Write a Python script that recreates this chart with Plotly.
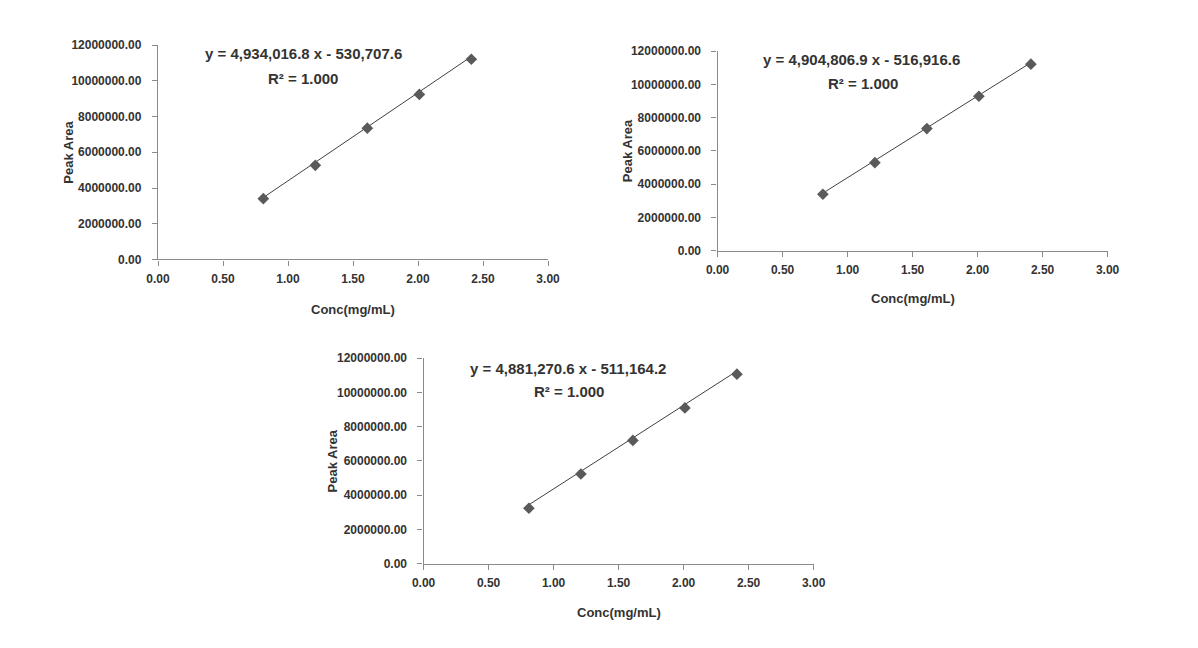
import plotly.graph_objects as go

# ---- data ----
conc = [0.81, 1.21, 1.61, 2.01, 2.41]
area_1 = [3.40e6, 5.27e6, 7.35e6, 9.24e6, 11.21e6]
area_2 = [3.39e6, 5.29e6, 7.34e6, 9.28e6, 11.21e6]
area_3 = [3.24e6, 5.24e6, 7.20e6, 9.10e6, 11.07e6]
slopes = [4934016.8, 4904806.9, 4881270.6]
intercepts = [-530707.6, -516916.6, -511164.2]
eq_labels = ["y = 4,934,016.8 x - 530,707.6",
             "y = 4,904,806.9 x - 516,916.6",
             "y = 4,881,270.6 x - 511,164.2"]
r2_labels = ["R² = 1.000", "R² = 1.000", "R² = 1.000"]
x_ticks = [0.0, 0.5, 1.0, 1.5, 2.0, 2.5, 3.0]
y_ticks = [0, 2e6, 4e6, 6e6, 8e6, 10e6, 12e6]
x_title = "Conc(mg/mL)"
y_title = "Peak Area"

W, H = 1198, 648
FONT = "Liberation Sans, Arial, sans-serif"
TXT = "#333333"
AXC = "#8a8a8a"

# panel pixel boxes: (x_left, x_right, y_top, y_bottom)
boxes = [(149, 547, 39, 258), (720, 1118, 45, 249), (420, 818, 359, 569)]
eq_pos = [((297, 48), (297, 73)), ((867, 54), (868, 78)), ((567, 369), (568, 393))]
xt_pos = [(348, 309), (919, 298), (619, 619)]
yt_pos = [(58, 148), (628, 147), (328, 464)]

series = [area_1, area_2, area_3]

fig = go.Figure()
annotations = []


def ann(x, y, text, size, angle=0):
    return dict(x=x / W, y=1 - y / H, xref="paper", yref="paper",
                xanchor="center", yanchor="middle", text=text, showarrow=False,
                textangle=angle,
                font=dict(family=FONT, size=size, color=TXT, weight="bold"))


for i, (ys, m, b) in enumerate(zip(series, slopes, intercepts)):
    xa = "x" if i == 0 else f"x{i+1}"
    ya = "y" if i == 0 else f"y{i+1}"
    fit_x = [min(conc), max(conc)]
    fit_y = [m * v + b for v in fit_x]
    fig.add_trace(go.Scatter(x=fit_x, y=fit_y, mode="lines",
                             line=dict(color="#404040", width=1),
                             xaxis=xa, yaxis=ya, hoverinfo="skip", showlegend=False))
    fig.add_trace(go.Scatter(x=conc, y=ys, mode="markers",
                             marker=dict(symbol="diamond", size=9, color="#5a5a5a"),
                             xaxis=xa, yaxis=ya, showlegend=False))
    xl, xr, yt, yb = boxes[i]
    common = dict(showgrid=False, zeroline=False, showline=True,
                  linecolor=AXC, linewidth=1.3, ticks="outside", ticklen=5,
                  tickcolor=AXC, tickwidth=1.3, tickformat=".2f",
                  tickfont=dict(family=FONT, size=12, color=TXT, weight="bold"),
                  fixedrange=True)
    axx = dict(domain=[xl / W, xr / W], range=[0, 3], tickvals=x_ticks,
               ticklabelstandoff=3, anchor=ya, **common)
    axy = dict(domain=[1 - yb / H, 1 - yt / H], range=[0, 12e6], tickvals=y_ticks,
               ticklabelstandoff=8, anchor=xa, **common)
    fig.update_layout(**{("xaxis" if i == 0 else f"xaxis{i+1}"): axx,
                         ("yaxis" if i == 0 else f"yaxis{i+1}"): axy})
    (ex, ey), (rx, ry) = eq_pos[i]
    annotations.append(ann(ex, ey, eq_labels[i], 15))
    annotations.append(ann(rx, ry, r2_labels[i], 15))
    tx, ty = xt_pos[i]
    annotations.append(ann(tx, ty, x_title, 13))
    px, py = yt_pos[i]
    annotations.append(ann(px, py, y_title, 13, -90))

fig.update_layout(width=W, height=H, margin=dict(l=0, r=0, t=0, b=0),
                  paper_bgcolor="white", plot_bgcolor="white",
                  annotations=annotations, showlegend=False)
fig.write_html("out.html", config={"displayModeBar": False})
